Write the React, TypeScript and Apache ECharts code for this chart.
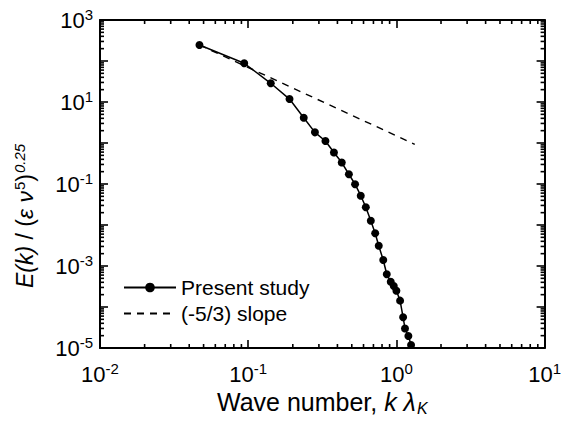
import React, { useEffect, useRef } from 'react';
import * as echarts from 'echarts';

const waveNumber = [
  0.0469, 0.094, 0.142, 0.19, 0.237, 0.282, 0.332, 0.379, 0.428, 0.478, 0.526,
  0.575, 0.622, 0.672, 0.719, 0.76, 0.815, 0.861, 0.916, 0.96, 1.0, 1.059,
  1.11, 1.143, 1.205, 1.256,
];
const energy = [
  245, 88, 28.6, 11.8, 4.14, 1.82, 1.12, 0.586, 0.334, 0.173, 0.0989,
  0.0519, 0.027, 0.0127, 0.00628, 0.00313, 0.0014, 6.28e-4, 4.14e-4, 3.25e-4,
  2.5e-4, 1.43e-4, 5.6e-5, 3.0e-5, 1.96e-5, 1.18e-5,
];
const slopeX = [0.047, 1.33];
const slopeY = [245, 0.93];

const xMin = 0.01;
const xMax = 10;
const yMin = 1e-5;
const yMax = 1e3;
const seriesNames = ['Present study', '(-5/3) slope'];

function minorTicks(lo: number, hi: number): number[] {
  const out: number[] = [];
  for (let e = Math.round(Math.log10(lo)); e < Math.round(Math.log10(hi)); e++) {
    for (let m = 2; m <= 9; m++) out.push(m * Math.pow(10, e));
  }
  return out;
}

const FONT = '"Liberation Sans", Arial, sans-serif';

const xLabel = (v: number) => {
  const e = Math.round(Math.log10(v));
  return `{b|10}{s|${e}}`;
};
const yLabel = (v: number) => {
  const e = Math.round(Math.log10(v));
  return Math.abs(e) % 2 === 1 ? `{b|10}{s|${e}}` : '';
};

const labelRich = () => ({
  b: { fontSize: 22, fontFamily: FONT, color: '#000', lineHeight: 26 },
  s: { fontSize: 15, fontFamily: FONT, color: '#000', verticalAlign: 'top', lineHeight: 15, padding: [0, 0, 9, 0] },
});

const MAJOR_LEN = 8;
const MINOR_LEN = 4;
const TICK_W = 1.6;

export default function App() {
  const ref = useRef<HTMLDivElement>(null);
  useEffect(() => {
    if (!ref.current) return;
    const chart = echarts.init(ref.current, null, { renderer: 'svg' });
    const mkLine = () => ({ show: true, onZero: false, lineStyle: { color: '#000', width: 2 } });
    const mkTick = () => ({ show: true, inside: true, length: MAJOR_LEN, lineStyle: { color: '#000', width: 1.6 } });
    const xBase = () => ({ type: 'log', logBase: 10, min: xMin, max: xMax, splitNumber: 3, splitLine: { show: false } });
    const yBase = () => ({ type: 'log', logBase: 10, min: yMin, max: yMax, splitNumber: 8, splitLine: { show: false } });

    chart.setOption({
      animation: false,
      grid: { left: 100, top: 20, right: 17, bottom: 77 },
      xAxis: [
        {
          ...xBase(), position: 'bottom', axisLine: mkLine(), axisTick: mkTick(),
          axisLabel: { show: true, formatter: xLabel, rich: labelRich(), fontSize: 22, fontFamily: FONT, margin: 13 },
          name: '{n|Wave number, }{i|k λ}{sub|K}', nameLocation: 'middle', nameGap: 37,
          nameTextStyle: {
            rich: {
              n: { fontSize: 25, fontFamily: FONT, color: '#000', lineHeight: 28 },
              i: { fontSize: 25, fontFamily: FONT, fontStyle: 'italic', color: '#000', lineHeight: 28 },
              sub: { fontSize: 16, fontFamily: FONT, fontStyle: 'italic', color: '#000', verticalAlign: 'bottom', lineHeight: 16, padding: [9, 0, 0, 1] },
            },
          },
        },
        { ...xBase(), position: 'top', axisLine: mkLine(), axisTick: mkTick(), axisLabel: { show: false } },
      ],
      yAxis: [
        {
          ...yBase(), position: 'left', axisLine: mkLine(), axisTick: mkTick(),
          axisLabel: { show: true, formatter: yLabel, rich: labelRich(), fontSize: 22, fontFamily: FONT, margin: 7 },
          name: '{i|E(k)}{n| / (}{i|ε ν}{sup|5}{n|)}{supi|0.25}', nameLocation: 'middle', nameGap: 62, nameRotate: 90,
          nameTextStyle: {
            padding: [0, 64, 0, 0],
            rich: {
              n: { fontSize: 23, fontFamily: FONT, color: '#000', lineHeight: 26 },
              i: { fontSize: 23, fontFamily: FONT, fontStyle: 'italic', color: '#000', lineHeight: 26 },
              sup: { fontSize: 15, fontFamily: FONT, color: '#000', verticalAlign: 'top', lineHeight: 15, padding: [0, 0, 9, 1] },
              supi: { fontSize: 15, fontFamily: FONT, fontStyle: 'italic', color: '#000', verticalAlign: 'top', lineHeight: 15, padding: [0, 0, 9, 1] },
            },
          },
        },
        { ...yBase(), position: 'right', axisLine: mkLine(), axisTick: mkTick(), axisLabel: { show: false } },
      ],
      legend: {
        show: true,
        orient: 'vertical',
        left: 118,
        top: 271,
        itemWidth: 52,
        itemHeight: 12,
        itemGap: 3,
        data: [seriesNames[0], { name: seriesNames[1], itemStyle: { opacity: 0 } }],
        textStyle: { fontSize: 21, fontFamily: FONT, color: '#000', lineHeight: 23 },
      },
      series: [
        {
          name: seriesNames[0],
          type: 'line',
          data: waveNumber.map((x, i) => [x, energy[i]]),
          symbol: 'circle',
          symbolSize: 8,
          itemStyle: { color: '#000' },
          lineStyle: { color: '#000', width: 1.5 },
          z: 3,
        },
        {
          name: seriesNames[1],
          type: 'line',
          data: slopeX.map((x, i) => [x, slopeY[i]]),
          symbol: 'none',
          itemStyle: { color: '#000' },
          lineStyle: { color: '#000', width: 1.4, type: [7, 6] },
          z: 2,
        },
      ],
    });

    // Minor ticks (2..9 in each decade), placed through the axes' own scales.
    try {
      const px = (v: number) => chart.convertToPixel({ xAxisIndex: 0 }, v) as unknown as number;
      const py = (v: number) => chart.convertToPixel({ yAxisIndex: 0 }, v) as unknown as number;
      const left = px(xMin);
      const right = px(xMax);
      const bottom = py(yMin);
      const top = py(yMax);
      const elements: any[] = [];
      minorTicks(xMin, xMax).forEach((v) => {
        const x = px(v);
        elements.push({ type: 'rect', z: 100, shape: { x: x - TICK_W / 2, y: bottom - MINOR_LEN, width: TICK_W, height: MINOR_LEN }, style: { fill: '#000' } });
        elements.push({ type: 'rect', z: 100, shape: { x: x - TICK_W / 2, y: top, width: TICK_W, height: MINOR_LEN }, style: { fill: '#000' } });
      });
      minorTicks(yMin, yMax).forEach((v) => {
        const y = py(v);
        elements.push({ type: 'rect', z: 100, shape: { x: left, y: y - TICK_W / 2, width: MINOR_LEN, height: TICK_W }, style: { fill: '#000' } });
        elements.push({ type: 'rect', z: 100, shape: { x: right - MINOR_LEN, y: y - TICK_W / 2, width: MINOR_LEN, height: TICK_W }, style: { fill: '#000' } });
      });
      chart.setOption({ graphic: { elements } });
    } catch (e) {
      // leave the chart without minor ticks if conversion fails
    }

    return () => chart.dispose();
  }, []);
  return <div ref={ref} style={{ position: 'fixed', left: 0, top: 0, width: 564, height: 425, background: '#fff' }} />;
}
